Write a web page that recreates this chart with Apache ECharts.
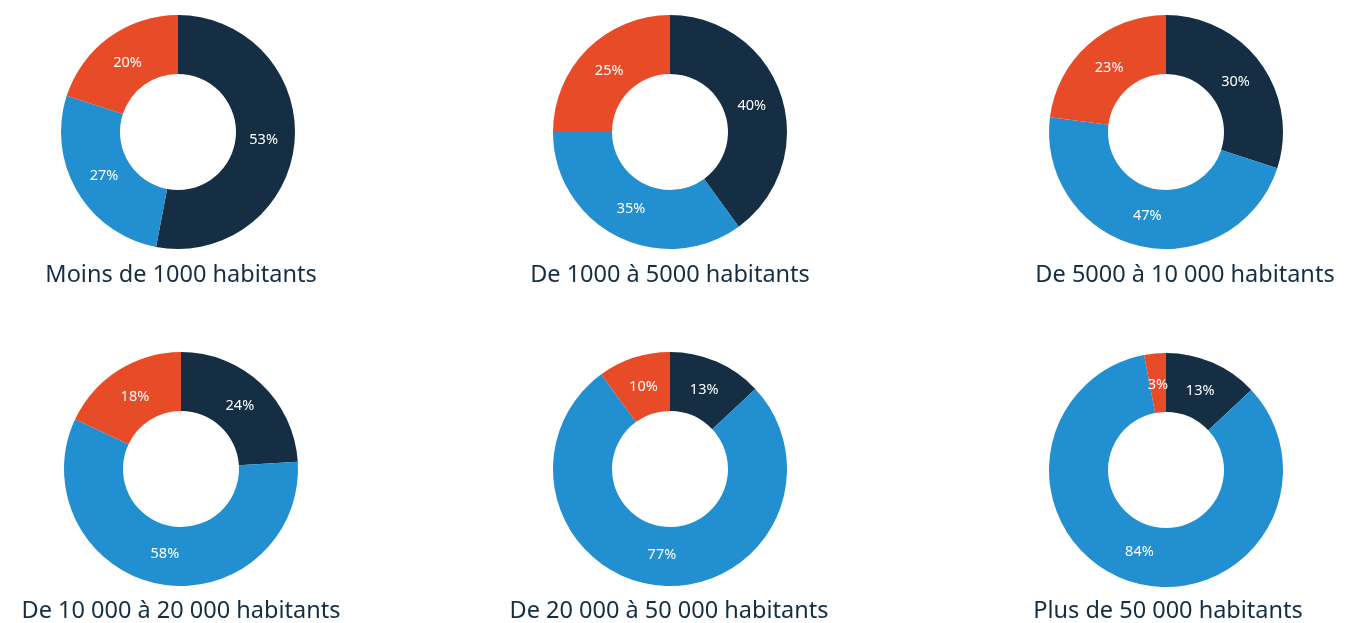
<!DOCTYPE html>
<html>
<head>
<meta charset="utf-8">
<script src="https://cdn.jsdelivr.net/npm/echarts@6/dist/echarts.min.js"></script>
<style>
  html, body { margin: 0; padding: 0; background: #fff; }
  #chart { width: 1347px; height: 623px; }
</style>
</head>
<body>
<div id="chart"></div>
<script>
// tranches de population
const categories = [
  'Moins de 1000 habitants',
  'De 1000 à 5000 habitants',
  'De 5000 à 10 000 habitants',
  'De 10 000 à 20 000 habitants',
  'De 20 000 à 50 000 habitants',
  'Plus de 50 000 habitants'
];
const seriesNames = ['Sombre', 'Bleu', 'Orange'];
const darkValues = [53, 40, 30, 24, 13, 13];
const blueValues = [27, 35, 47, 58, 77, 84];
const orangeValues = [20, 25, 23, 18, 10, 3];

const colors = ['#152e43', '#228fd0', '#e84b28'];
const centers = [[178, 132], [670, 132], [1166, 132], [181, 469], [670, 469], [1166, 470]];
const titleX = [181, 670, 1185, 181, 669, 1168];
const titleY = [263, 263, 263, 599, 599, 599];
const font = '"Noto Sans", Lato, sans-serif';

const chart = echarts.init(document.getElementById('chart'), null, { renderer: 'canvas' });

const sliceData = (i) => [
  { name: seriesNames[0], value: darkValues[i], itemStyle: { color: colors[0] } },
  { name: seriesNames[1], value: blueValues[i], itemStyle: { color: colors[1] } },
  { name: seriesNames[2], value: orangeValues[i], itemStyle: { color: colors[2] } }
];

const rings = categories.map((name, i) => ({
  name: name,
  type: 'pie',
  radius: [58, 117],
  center: centers[i],
  startAngle: 90,
  clockwise: true,
  label: { show: false },
  labelLine: { show: false },
  emphasis: { disabled: true },
  data: sliceData(i)
}));

// labels sit a bit inside the middle of the ring
const labels = categories.map((name, i) => ({
  name: name + ' (labels)',
  type: 'pie',
  radius: [58, 108],
  center: centers[i],
  startAngle: 90,
  clockwise: true,
  silent: true,
  avoidLabelOverlap: false,
  itemStyle: { color: 'transparent' },
  label: {
    show: true,
    position: 'inside',
    formatter: '{c}%',
    color: '#fff',
    fontSize: 14.5,
    fontFamily: font
  },
  labelLine: { show: false },
  emphasis: { disabled: true },
  data: sliceData(i).map(d => ({ name: d.name, value: d.value, itemStyle: { color: 'transparent' } }))
}));

const option = {
  animation: false,
  title: categories.map((name, i) => ({
    text: name,
    left: titleX[i],
    top: titleY[i],
    textAlign: 'center',
    padding: 0,
    textStyle: { color: '#152e43', fontSize: 23.5, fontWeight: 'normal', fontFamily: font }
  })),
  series: rings.concat(labels)
};

chart.setOption(option);
</script>
</body>
</html>
